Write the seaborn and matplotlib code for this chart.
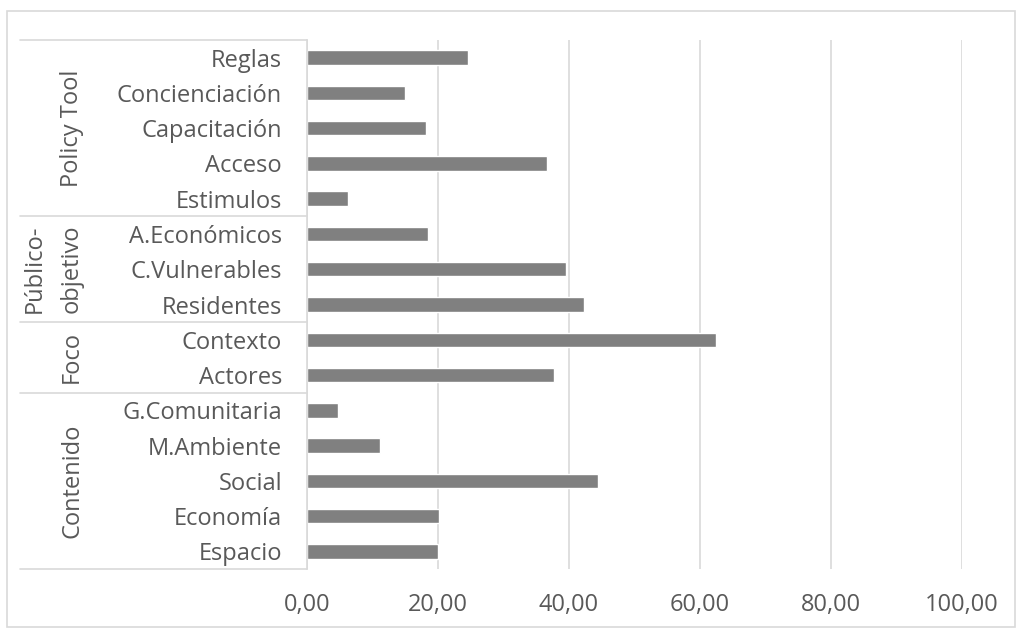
import numpy as np
import pandas as pd
import seaborn as sns
import matplotlib.pyplot as plt
from matplotlib.patches import Rectangle
from matplotlib.transforms import blended_transform_factory

# categories, top to bottom
labels = ["Reglas", "Concienciación", "Capacitación", "Acceso", "Estimulos",
          "A.Económicos", "C.Vulnerables", "Residentes",
          "Contexto", "Actores",
          "G.Comunitaria", "M.Ambiente", "Social", "Economía", "Espacio"]
values = [24.6, 15.0, 18.2, 36.7, 6.2,
          18.4, 39.6, 42.3,
          62.5, 37.7,
          4.8, 11.2, 44.5, 20.1, 20.0]
groups = ["Policy Tool", "Público-\nobjetivo", "Foco", "Contenido"]
group_sizes = [5, 3, 2, 5]
x_ticks = [0, 20, 40, 60, 80, 100]
x_ticklabels = ["0,00", "20,00", "40,00", "60,00", "80,00", "100,00"]

TEXT = "#595959"
GRID = "#d9d9d9"
BAR = "#808080"
FS = 17

sns.set_style("white")
plt.rcParams['font.family'] = ['Open Sans', 'DejaVu Sans']

df = pd.DataFrame({"label": labels, "value": values})

fig = plt.figure(figsize=(10.22, 6.32), dpi=100)
W, H = 1022, 632
ax = fig.add_axes([307 / W, 1 - 569 / H, (962 - 307) / W, (569 - 40) / H])

sns.barplot(data=df, x="value", y="label", order=labels, color=BAR,
            width=0.41, saturation=1, ax=ax)

ax.set_xlim(0, 100)
ax.set_ylim(len(labels) - 0.5, -0.5)
ax.set_xticks(x_ticks)
ax.set_xticklabels(x_ticklabels)
ax.set_xlabel("")
ax.set_ylabel("")
ax.tick_params(axis='y', length=0, pad=18, labelsize=FS, labelcolor=TEXT)
ax.tick_params(axis='x', length=0, pad=17, labelsize=FS, labelcolor=TEXT)
ax.grid(axis='x', color=GRID, linewidth=1.2)
ax.set_axisbelow(True)
for side in ["top", "right", "bottom"]:
    ax.spines[side].set_visible(False)
ax.spines["left"].set_color(GRID)
ax.spines["left"].set_linewidth(1.2)

# multi-level category table on the left
trans = blended_transform_factory(fig.transFigure, ax.transData)
bounds = np.concatenate([[0], np.cumsum(group_sizes)]) - 0.5
for b in bounds:
    ax.plot([20 / W, 307 / W], [b, b], color=GRID, linewidth=1.2,
            transform=trans, clip_on=False)

for name, lo, hi in zip(groups, bounds[:-1], bounds[1:]):
    yc = (lo + hi) / 2
    if "\n" in name:
        first, second = name.split("\n")
        ax.text(35 / W, yc, first, rotation=90, ha='center', va='center',
                fontsize=FS, color=TEXT, transform=trans)
        ax.text(72 / W, yc, second, rotation=90, ha='center', va='center',
                fontsize=FS, color=TEXT, transform=trans)
    else:
        ax.text(72 / W, yc, name, rotation=90, ha='center', va='center',
                fontsize=FS, color=TEXT, transform=trans)

# outer chart frame
fig.patches.append(Rectangle((7 / W, 1 - 627 / H), (1015 - 7) / W, (627 - 11) / H,
                             transform=fig.transFigure, fill=False,
                             edgecolor=GRID, linewidth=1.2))

fig.savefig("out.png", dpi=100)
